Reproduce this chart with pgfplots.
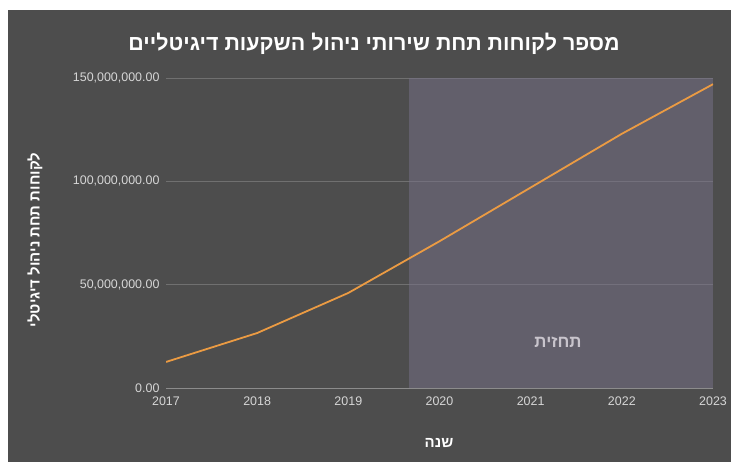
\documentclass[border=0pt]{standalone}
\usepackage{pgfplots}
\pgfplotsset{compat=1.18}
\usepackage{fontspec}
\setmainfont{Liberation Sans}
\newfontfamily\hebfont[Script=Hebrew]{Liberation Sans}
\TeXXeTstate=1
\definecolor{bg}{HTML}{4D4D4D}
\definecolor{shade}{HTML}{777189}
\definecolor{lineorange}{HTML}{EB9B43}
\definecolor{gridgray}{HTML}{707070}
\definecolor{axisgray}{HTML}{8C8C8C}
\definecolor{ticklbl}{HTML}{D6D6D6}
\definecolor{fclbl}{HTML}{C8C4CC}
\begin{document}
\begin{tikzpicture}
\fill[white] (0bp,0bp) rectangle (731bp,462bp);
\fill[bg] (8bp,0bp) rectangle (731bp,452bp);
\begin{axis}[
  at={(166bp,74bp)}, anchor=south west,
  scale only axis, width=547bp, height=310bp,
  xmin=2017, xmax=2023, ymin=0, ymax=150000000,
  axis x line*=bottom, axis y line*=left,
  x axis line style={draw=axisgray, line width=0.8bp, -},
  y axis line style={draw=none},
  major tick length=0pt,
  xtick={2017,2018,2019,2020,2021,2022,2023},
  xticklabels={2017,2018,2019,2020,2021,2022,2023},
  ytick={0,50000000,100000000,150000000},
  yticklabels={{0.00},{50,000,000.00},{100,000,000.00},{150,000,000.00}},
  scaled y ticks=false,
  ymajorgrids, grid style={gridgray, line width=0.6bp},
  tick label style={font=\fontsize{12.5}{14}\selectfont, text=ticklbl},
  y tick label style={xshift=-3bp},
  x tick label style={yshift=-5bp},
  /pgf/number format/assume math mode=true,
]
\addplot[fill=shade, fill opacity=0.5, draw=none] coordinates {(2019.66,150000000) (2023,150000000)} \closedcycle;
\addplot[lineorange, line width=1.8bp, mark=none] coordinates {
(2017,12600000) (2018,26600000) (2019,46000000) (2020,71000000) (2021,97000000) (2022,123000000) (2023,147000000)};
\node[text=fclbl, font=\hebfont\bfseries\fontsize{17}{20}\selectfont] at (axis cs:2021.3,22300000) {\beginR תחזית\endR};
\end{axis}
\node[text=white, font=\hebfont\bfseries\fontsize{21.5}{26}\selectfont] at (374bp,418bp) {\beginR מספר לקוחות תחת שירותי ניהול השקעות דיגיטליים\endR};
\node[rotate=90, text=white, font=\hebfont\bfseries\fontsize{15}{18}\selectfont] at (35bp,222bp) {\beginR לקוחות תחת ניהול דיגיטלי\endR};
\node[text=white, font=\hebfont\bfseries\fontsize{15}{18}\selectfont] at (439bp,19bp) {\beginR שנה\endR};
\end{tikzpicture}
\end{document}
